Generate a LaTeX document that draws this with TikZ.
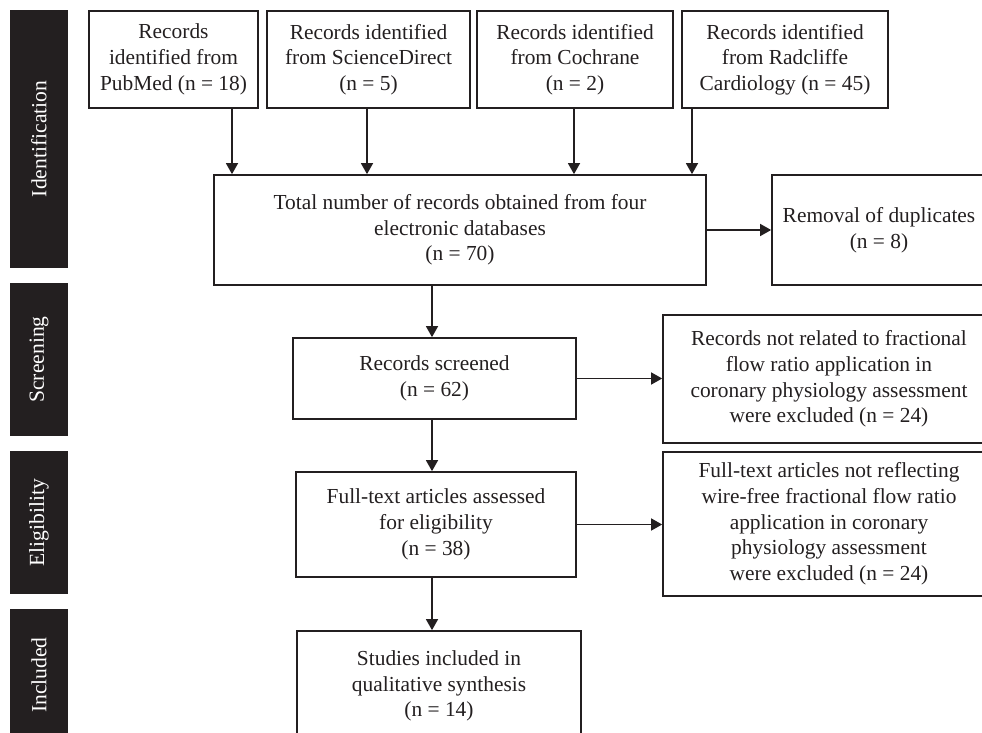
\documentclass[tikz,border=0pt]{standalone}
\usepackage{fontspec}
\setmainfont{Liberation Serif}
\usetikzlibrary{arrows.meta}
\definecolor{ink}{HTML}{231F20}
\tikzset{
  box/.style={draw=ink, line width=1.7pt, rectangle, inner sep=0pt, align=center, text=ink,
    font=\fontsize{21.4}{25.7}\selectfont},
  bar/.style={fill=ink, rectangle, inner sep=0pt, rotate=90, text=white,
    font=\fontsize{21.6}{24}\selectfont, minimum height=58pt},
  arr/.style={draw=ink, line width=1.5pt, -{Triangle[length=11pt,width=12pt]}}
}
\begin{document}
\begin{tikzpicture}[x=1pt,y=-1pt]
\useasboundingbox (0,0) rectangle (982,733);
% phase bars
\node[bar, minimum width=258pt] (bid) at (39,139) {Identification};
\node[bar, minimum width=153pt] (bsc) at (39,359.5) {Screening};
\node[bar, minimum width=143pt] (bel) at (39,522.5) {Eligibility};
\node[bar, minimum width=132pt] (bin) at (39,675) {Included};
% top boxes
\node[box, minimum width=169pt, minimum height=97pt] (pub) at (173.5,59.5) {Records\\identified from\\PubMed (n = 18)};
\node[box, minimum width=203pt, minimum height=97pt] (sd) at (368.5,59.5) {Records identified\\from ScienceDirect\\(n = 5)};
\node[box, minimum width=196pt, minimum height=97pt] (coc) at (575,59.5) {Records identified\\from Cochrane\\(n = 2)};
\node[box, minimum width=206pt, minimum height=97pt] (rad) at (785,59.5) {Records identified\\from Radcliffe\\Cardiology (n = 45)};
% main column
\node[box, minimum width=492pt, minimum height=110pt] (tot) at (460,230) {Total number of records obtained from four\\electronic databases\\(n = 70)};
\node[box, minimum width=214pt, minimum height=110pt] (rem) at (879,230) {Removal of duplicates\\(n = 8)};
\node[box, minimum width=283pt, minimum height=81pt] (scr) at (434.5,378.5) {Records screened\\(n = 62)};
\node[box, minimum width=332pt, minimum height=128pt] (ex1) at (829,379) {Records not related to fractional\\flow ratio application in\\coronary physiology assessment\\were excluded (n = 24)};
\node[box, minimum width=280pt, minimum height=105pt] (ft) at (436,524.5) {Full-text articles assessed\\for eligibility\\(n = 38)};
\node[box, minimum width=332pt, minimum height=144pt] (ex2) at (829,524) {Full-text articles not reflecting\\wire-free fractional flow ratio\\application in coronary\\physiology assessment\\were excluded (n = 24)};
\node[box, minimum width=284pt, minimum height=110pt] (inc) at (439,686) {Studies included in\\qualitative synthesis\\(n = 14)};
% arrow columns
\coordinate (c1) at (232,0);
\coordinate (c2) at (367,0);
\coordinate (c3) at (574,0);
\coordinate (c4) at (692,0);
\coordinate (cm) at (432,0);
\draw[arr] (pub.south -| c1) -- (tot.north -| c1);
\draw[arr] (sd.south -| c2) -- (tot.north -| c2);
\draw[arr] (coc.south -| c3) -- (tot.north -| c3);
\draw[arr] (rad.south -| c4) -- (tot.north -| c4);
\draw[arr] (tot.east) -- (rem.west);
\draw[arr] (tot.south -| cm) -- (scr.north -| cm);
\draw[arr] (scr.east) -- (scr.east -| ex1.west);
\draw[arr] (scr.south -| cm) -- (ft.north -| cm);
\draw[arr] (ft.east) -- (ft.east -| ex2.west);
\draw[arr] (ft.south -| cm) -- (inc.north -| cm);
\end{tikzpicture}
\end{document}
